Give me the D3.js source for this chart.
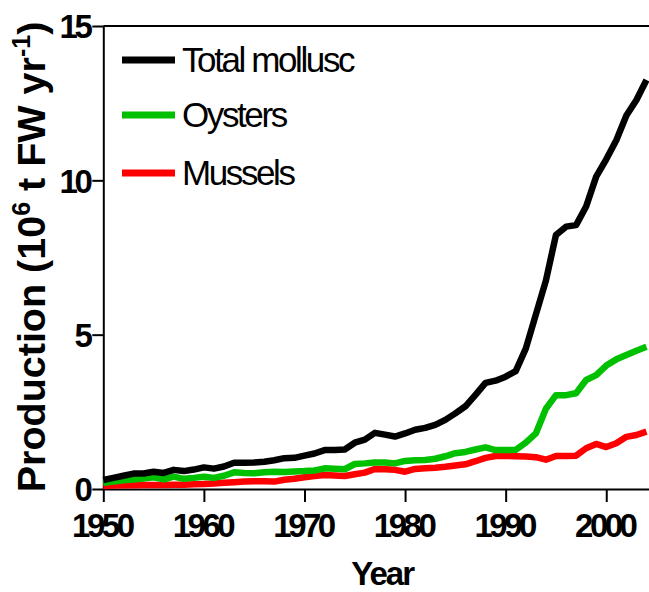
<!doctype html>
<html lang="en">
<head>
    <meta charset="utf-8"/>
    <title>Mollusc production</title>
    <style>
        body { margin: 0; background: #fff; }
        svg { font-family: "Liberation Sans", Arial, sans-serif; }
        .tick text { font-weight: bold; font-size: 33px; letter-spacing: -3.5px; fill: #000; }
        .tick line, .domain { stroke: #000; stroke-width: 2px; }
        .series { fill: none; stroke-width: 6.5px; stroke-linejoin: round; stroke-linecap: butt; }
    </style>
    <script src="https://d3js.org/d3.v7.min.js"></script>
</head>
<body>
<svg width="649" height="592"></svg>
<script>

    // years 1950..2004, values in 10^6 t FW per year
    var years = d3.range(1950, 2005);

    var totalMollusc = [0.29, 0.36, 0.43, 0.50, 0.50, 0.56, 0.52, 0.62, 0.58, 0.63,
                        0.70, 0.66, 0.73, 0.85, 0.85, 0.86, 0.88, 0.93, 1.00, 1.01,
                        1.08, 1.15, 1.26, 1.26, 1.28, 1.50, 1.60, 1.82, 1.76, 1.70,
                        1.80, 1.92, 1.98, 2.08, 2.24, 2.45, 2.68, 3.05, 3.44, 3.51,
                        3.64, 3.82, 4.55, 5.65, 6.75, 8.23, 8.50, 8.55, 9.15, 10.12,
                        10.68, 11.30, 12.10, 12.60, 13.25];

    var oysters = [0.20, 0.24, 0.28, 0.31, 0.34, 0.38, 0.31, 0.40, 0.33, 0.36,
                   0.40, 0.36, 0.43, 0.54, 0.52, 0.51, 0.54, 0.56, 0.55, 0.57,
                   0.58, 0.60, 0.67, 0.66, 0.64, 0.81, 0.83, 0.86, 0.86, 0.83,
                   0.91, 0.93, 0.94, 0.98, 1.06, 1.16, 1.20, 1.28, 1.35, 1.26,
                   1.26, 1.27, 1.50, 1.80, 2.60, 3.04, 3.04, 3.10, 3.53, 3.69,
                   4.00, 4.20, 4.34, 4.48, 4.61];

    var mussels = [0.10, 0.11, 0.12, 0.12, 0.13, 0.13, 0.13, 0.14, 0.14, 0.15,
                   0.16, 0.18, 0.20, 0.22, 0.24, 0.25, 0.25, 0.24, 0.30, 0.33,
                   0.38, 0.42, 0.45, 0.44, 0.42, 0.48, 0.53, 0.65, 0.64, 0.62,
                   0.56, 0.65, 0.67, 0.69, 0.72, 0.76, 0.80, 0.90, 1.01, 1.07,
                   1.07, 1.06, 1.05, 1.03, 0.95, 1.07, 1.07, 1.08, 1.32, 1.46,
                   1.36, 1.48, 1.69, 1.75, 1.86];

    var seriesNames = ["Total mollusc", "Oysters", "Mussels"];
    var seriesColors = ["#000000", "#00c000", "#ff0000"];
    var xTicks = [1950, 1960, 1970, 1980, 1990, 2000];
    var yTicks = [0, 5, 10, 15];

    var svg = d3.select("svg");

    var plotLeft = 103.3, plotRight = 649, plotTop = 26, plotBottom = 489;

    var x = d3.scaleLinear().domain([1950, 2004.25]).range([plotLeft, plotRight]);
    var y = d3.scaleLinear().domain([0, 15]).range([plotBottom, plotTop]);

    // top frame line
    svg.append("line")
       .attr("x1", plotLeft).attr("x2", plotRight)
       .attr("y1", plotTop).attr("y2", plotTop)
       .attr("stroke", "#000").attr("stroke-width", 2);

    var xAxis = svg.append("g")
       .attr("transform", "translate(0," + plotBottom + ")")
       .call(d3.axisBottom(x).tickValues(xTicks).tickFormat(d3.format("d"))
             .tickSize(13).tickSizeOuter(0).tickPadding(4));
    xAxis.selectAll(".tick text").attr("dy", "0.95em").attr("dx", "-2");

    var yAxis = svg.append("g")
       .attr("transform", "translate(" + plotLeft + ",0)")
       .call(d3.axisLeft(y).tickValues(yTicks).tickSize(11).tickSizeOuter(0).tickPadding(3));
    yAxis.selectAll(".tick text").attr("dy", "0.36em");

    var line = d3.line()
        .x(function(d, i) { return x(years[i]); })
        .y(function(d) { return y(d); });

    var allSeries = [totalMollusc, oysters, mussels];

    // draw mussels first, total on top
    [2, 1, 0].forEach(function(k) {
        svg.append("path")
           .datum(allSeries[k])
           .attr("class", "series")
           .attr("stroke", seriesColors[k])
           .attr("d", line);
    });

    // legend
    var legendY = [60, 115, 173];
    seriesNames.forEach(function(name, i) {
        svg.append("line")
           .attr("x1", 122).attr("x2", 175)
           .attr("y1", legendY[i]).attr("y2", legendY[i])
           .attr("stroke", seriesColors[i])
           .attr("stroke-width", 7);
        svg.append("text")
           .attr("x", 182)
           .attr("y", legendY[i] + 12)
           .attr("font-size", "35px")
           .attr("letter-spacing", "-2.4px")
           .text(name);
    });

    // axis titles
    svg.append("text")
       .attr("x", (plotLeft + plotRight) / 2 + 6)
       .attr("y", 585)
       .attr("text-anchor", "middle")
       .attr("font-size", "33px")
       .attr("font-weight", "bold")
       .attr("letter-spacing", "-2px")
       .text("Year");

    var yt = svg.append("text")
       .attr("transform", "translate(45,257) rotate(-90)")
       .attr("text-anchor", "middle")
       .attr("font-size", "39.5px")
       .attr("font-weight", "bold");
    yt.append("tspan").text("Production (10");
    yt.append("tspan").attr("font-size", "25px").attr("dy", "-15").text("6");
    yt.append("tspan").attr("dy", "15").text(" t FW yr");
    yt.append("tspan").attr("font-size", "25px").attr("dy", "-15").text("-1");
    yt.append("tspan").attr("dy", "15").text(")");

</script>
</body>
</html>
